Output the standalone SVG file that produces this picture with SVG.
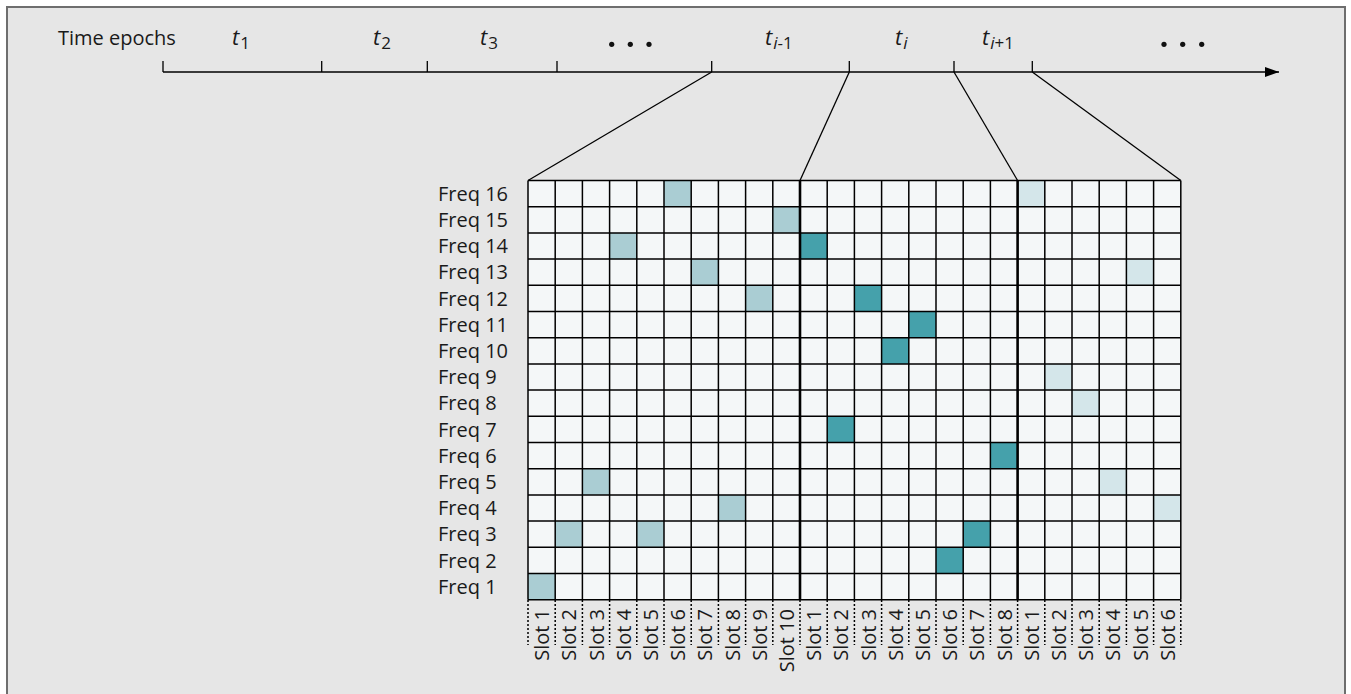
<svg xmlns="http://www.w3.org/2000/svg" width="1351" height="694" viewBox="0 0 1351 694">
<defs>
<style>
text{font-family:"Open Sans","Noto Sans","Liberation Sans",sans-serif;fill:#1a1a1a;font-size:20px}
.t{font-style:italic;font-size:22px}
.sub{font-size:17px;font-style:normal}
.subi{font-size:17px;font-style:italic}
.lt{fill:#aacdd3}
.dk{fill:#45a1ab}
.vl{fill:#d4e6ea}
.grid{stroke:#000;stroke-width:1.5;fill:none}
.thick{stroke:#000;stroke-width:2.6;fill:none}
.ln{stroke:#000;stroke-width:1.3;fill:none}
.dot{stroke:#000;stroke-width:1.5;stroke-dasharray:2 2;fill:none}
.ep{fill:#111}
</style>
<marker id="arr" markerWidth="14" markerHeight="10" refX="14" refY="5" orient="auto" markerUnits="userSpaceOnUse">
<polygon points="0,0 14,5 0,10" fill="#000"/>
</marker>
</defs>
<rect x="0" y="0" width="1351" height="694" fill="#fff"/>
<rect x="7" y="7" width="1338" height="700" fill="#e6e6e6" stroke="#6e6e6e" stroke-width="2"/>

<g id="timeline">
<text x="58" y="45">Time epochs</text>
<line class="ln" x1="163" y1="72" x2="1279" y2="72" marker-end="url(#arr)"/>
<path class="ln" d="M163,61V72M321.7,61V72M427.3,61V72M557,61V72M711.7,61V72M849.3,61V72M954,61V72M1032.3,61V72"/>
<text class="t" x="232" y="45">t<tspan class="sub" dx="1" dy="4">1</tspan></text>
<text class="t" x="373" y="45">t<tspan class="sub" dx="1" dy="4">2</tspan></text>
<text class="t" x="480" y="45">t<tspan class="sub" dx="1" dy="4">3</tspan></text>
<circle class="ep" cx="611.7" cy="44.3" r="2.6"/><circle class="ep" cx="630.3" cy="44.3" r="2.6"/><circle class="ep" cx="649" cy="44.3" r="2.6"/>
<text class="t" x="765" y="45">t<tspan class="subi" dx="1" dy="4">i</tspan><tspan class="sub">-1</tspan></text>
<text class="t" x="895" y="45">t<tspan class="subi" dx="1" dy="4">i</tspan></text>
<text class="t" x="982" y="45">t<tspan class="subi" dx="1" dy="4">i</tspan><tspan class="sub">+1</tspan></text>
<circle class="ep" cx="1164" cy="44.3" r="2.6"/><circle class="ep" cx="1182.7" cy="44.3" r="2.6"/><circle class="ep" cx="1201.7" cy="44.3" r="2.6"/>
</g>

<g id="connectors">
<line class="ln" x1="711.7" y1="72" x2="528" y2="180.5"/>
<line class="ln" x1="849.3" y1="72" x2="800" y2="180.5"/>
<line class="ln" x1="954" y1="72" x2="1017.6" y2="180.5"/>
<line class="ln" x1="1032.3" y1="72" x2="1180.8" y2="180.5"/>
</g>

<g id="grid">
<rect x="528" y="180.5" width="652.8" height="419.2" fill="#f4f7f8"/>
<g id="epoch-prev">
<rect class="lt" x="528" y="573.5" width="27.2" height="26.2"/>
<rect class="lt" x="555.2" y="521.1" width="27.2" height="26.2"/>
<rect class="lt" x="582.4" y="468.7" width="27.2" height="26.2"/>
<rect class="lt" x="609.6" y="232.9" width="27.2" height="26.2"/>
<rect class="lt" x="636.8" y="521.1" width="27.2" height="26.2"/>
<rect class="lt" x="664" y="180.5" width="27.2" height="26.2"/>
<rect class="lt" x="691.2" y="259.1" width="27.2" height="26.2"/>
<rect class="lt" x="718.4" y="494.9" width="27.2" height="26.2"/>
<rect class="lt" x="745.6" y="285.3" width="27.2" height="26.2"/>
<rect class="lt" x="772.8" y="206.7" width="27.2" height="26.2"/>
</g>
<g id="epoch-cur">
<rect class="dk" x="800" y="232.9" width="27.2" height="26.2"/>
<rect class="dk" x="827.2" y="416.3" width="27.2" height="26.2"/>
<rect class="dk" x="854.4" y="285.3" width="27.2" height="26.2"/>
<rect class="dk" x="881.6" y="337.7" width="27.2" height="26.2"/>
<rect class="dk" x="908.8" y="311.5" width="27.2" height="26.2"/>
<rect class="dk" x="936" y="547.3" width="27.2" height="26.2"/>
<rect class="dk" x="963.2" y="521.1" width="27.2" height="26.2"/>
<rect class="dk" x="990.4" y="442.5" width="27.2" height="26.2"/>
</g>
<g id="epoch-next">
<rect class="vl" x="1017.6" y="180.5" width="27.2" height="26.2"/>
<rect class="vl" x="1044.8" y="363.9" width="27.2" height="26.2"/>
<rect class="vl" x="1072" y="390.1" width="27.2" height="26.2"/>
<rect class="vl" x="1099.2" y="468.7" width="27.2" height="26.2"/>
<rect class="vl" x="1126.4" y="259.1" width="27.2" height="26.2"/>
<rect class="vl" x="1153.6" y="494.9" width="27.2" height="26.2"/>
</g>
<path class="grid" d="M528,180.5V599.7M555.2,180.5V599.7M582.4,180.5V599.7M609.6,180.5V599.7M636.8,180.5V599.7M664,180.5V599.7M691.2,180.5V599.7M718.4,180.5V599.7M745.6,180.5V599.7M772.8,180.5V599.7M827.2,180.5V599.7M854.4,180.5V599.7M881.6,180.5V599.7M908.8,180.5V599.7M936,180.5V599.7M963.2,180.5V599.7M990.4,180.5V599.7M1044.8,180.5V599.7M1072,180.5V599.7M1099.2,180.5V599.7M1126.4,180.5V599.7M1153.6,180.5V599.7M1180.8,180.5V599.7"/>
<path class="grid" d="M528,180.5H1180.8M528,206.7H1180.8M528,232.9H1180.8M528,259.1H1180.8M528,285.3H1180.8M528,311.5H1180.8M528,337.7H1180.8M528,363.9H1180.8M528,390.1H1180.8M528,416.3H1180.8M528,442.5H1180.8M528,468.7H1180.8M528,494.9H1180.8M528,521.1H1180.8M528,547.3H1180.8M528,573.5H1180.8M528,599.7H1180.8"/>
<path class="thick" d="M800,180.5V599.7M1017.6,180.5V599.7"/>
</g>

<g id="freq-labels">
<text x="438" y="200.8">Freq 16</text>
<text x="438" y="227">Freq 15</text>
<text x="438" y="253.2">Freq 14</text>
<text x="438" y="279.4">Freq 13</text>
<text x="438" y="305.6">Freq 12</text>
<text x="438" y="331.8">Freq 11</text>
<text x="438" y="358">Freq 10</text>
<text x="438" y="384.2">Freq 9</text>
<text x="438" y="410.4">Freq 8</text>
<text x="438" y="436.6">Freq 7</text>
<text x="438" y="462.8">Freq 6</text>
<text x="438" y="489">Freq 5</text>
<text x="438" y="515.2">Freq 4</text>
<text x="438" y="541.4">Freq 3</text>
<text x="438" y="567.6">Freq 2</text>
<text x="438" y="593.8">Freq 1</text>
</g>

<g id="slot-labels">
<path class="dot" d="M528,600V645M555.2,600V645M582.4,600V645M609.6,600V645M636.8,600V645M664,600V645M691.2,600V645M718.4,600V645M745.6,600V645M772.8,600V645M800,600V645M827.2,600V645M854.4,600V645M881.6,600V645M908.8,600V645M936,600V645M963.2,600V645M990.4,600V645M1017.6,600V645M1044.8,600V645M1072,600V645M1099.2,600V645M1126.4,600V645M1153.6,600V645M1180.8,600V645"/>
<g text-anchor="end">
<text transform="translate(549.1,609) rotate(-90)">Slot 1</text>
<text transform="translate(576.3,609) rotate(-90)">Slot 2</text>
<text transform="translate(603.5,609) rotate(-90)">Slot 3</text>
<text transform="translate(630.7,609) rotate(-90)">Slot 4</text>
<text transform="translate(657.9,609) rotate(-90)">Slot 5</text>
<text transform="translate(685.1,609) rotate(-90)">Slot 6</text>
<text transform="translate(712.3,609) rotate(-90)">Slot 7</text>
<text transform="translate(739.5,609) rotate(-90)">Slot 8</text>
<text transform="translate(766.7,609) rotate(-90)">Slot 9</text>
<text transform="translate(793.9,609) rotate(-90)">Slot 10</text>
<text transform="translate(821.1,609) rotate(-90)">Slot 1</text>
<text transform="translate(848.3,609) rotate(-90)">Slot 2</text>
<text transform="translate(875.5,609) rotate(-90)">Slot 3</text>
<text transform="translate(902.7,609) rotate(-90)">Slot 4</text>
<text transform="translate(929.9,609) rotate(-90)">Slot 5</text>
<text transform="translate(957.1,609) rotate(-90)">Slot 6</text>
<text transform="translate(984.3,609) rotate(-90)">Slot 7</text>
<text transform="translate(1011.5,609) rotate(-90)">Slot 8</text>
<text transform="translate(1038.7,609) rotate(-90)">Slot 1</text>
<text transform="translate(1065.9,609) rotate(-90)">Slot 2</text>
<text transform="translate(1093.1,609) rotate(-90)">Slot 3</text>
<text transform="translate(1120.3,609) rotate(-90)">Slot 4</text>
<text transform="translate(1147.5,609) rotate(-90)">Slot 5</text>
<text transform="translate(1174.7,609) rotate(-90)">Slot 6</text>
</g>
</g>
</svg>
